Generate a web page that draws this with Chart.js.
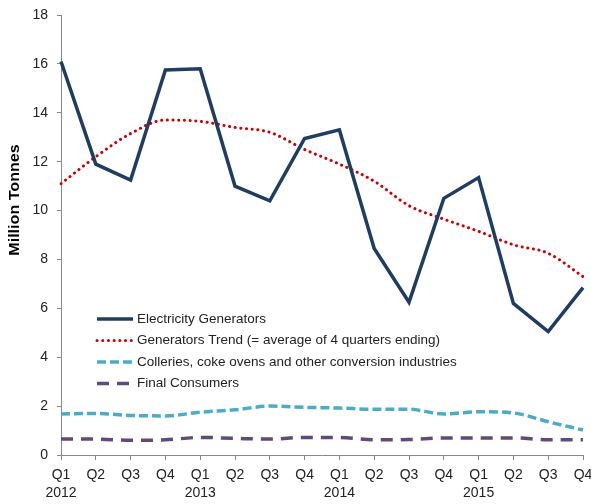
<!DOCTYPE html>
<html>
<head>
<meta charset="utf-8">
<script src="https://cdn.jsdelivr.net/npm/chart.js@4"></script>
<style>
  html, body { margin: 0; padding: 0; background: #fff; }
  #wrap { width: 591px; height: 504px; }
</style>
</head>
<body>
<div id="wrap"><canvas id="chart" width="591" height="504"></canvas></div>
<script>
// quarters, Q1 2012 .. Q4 2015
var quarters = ["Q1","Q2","Q3","Q4","Q1","Q2","Q3","Q4","Q1","Q2","Q3","Q4","Q1","Q2","Q3","Q4"];
var years = ["2012","","","","2013","","","","2014","","","","2015","","",""];

var generators = [16.1, 11.9, 11.25, 15.75, 15.8, 11.0, 10.4, 12.95, 13.3, 8.45, 6.25, 10.5, 11.35, 6.2, 5.05, 6.85];
var generatorsTrend = [11.1, 12.2, 13.15, 13.7, 13.65, 13.4, 13.2, 12.5, 11.9, 11.2, 10.2, 9.65, 9.15, 8.6, 8.25, 7.3];
var collieries = [1.68, 1.7, 1.62, 1.6, 1.75, 1.85, 2.0, 1.95, 1.92, 1.87, 1.87, 1.68, 1.77, 1.72, 1.36, 1.02];
var finalConsumers = [0.65, 0.65, 0.6, 0.62, 0.72, 0.68, 0.65, 0.72, 0.72, 0.62, 0.63, 0.7, 0.7, 0.7, 0.62, 0.62];

var yTitle = "Million Tonnes";

var labels = quarters.map(function(q, i){ return years[i] ? [q, years[i]] : q; });

var fontFam = "'Liberation Sans', Arial, sans-serif";

// legend drawn inside the plot + the y title (a bit stretched, like excel does)
var extras = {
  id: 'extras',
  afterDraw: function(chart) {
    var ctx = chart.ctx;
    var x0 = 97, x1 = 133, y = 319, step = 21.5;
    ctx.save();
    chart.data.datasets.forEach(function(ds, i) {
      var yy = y + i * step;
      ctx.beginPath();
      ctx.strokeStyle = ds.borderColor;
      ctx.lineWidth = ds.borderWidth;
      ctx.lineCap = ds.borderCapStyle || 'butt';
      ctx.setLineDash(ds.borderDash || []);
      ctx.moveTo(x0, yy);
      ctx.lineTo(x1, yy);
      ctx.stroke();
      ctx.setLineDash([]);
      ctx.fillStyle = '#222';
      ctx.font = '13.5px ' + fontFam;
      ctx.textBaseline = 'middle';
      ctx.fillText(ds.label, x1 + 4, yy);
    });
    ctx.restore();

    ctx.save();
    ctx.translate(15, 200);
    ctx.rotate(-Math.PI / 2);
    ctx.scale(1.15, 1);
    ctx.font = 'bold 14px ' + fontFam;
    ctx.fillStyle = '#000';
    ctx.textAlign = 'center';
    ctx.textBaseline = 'middle';
    ctx.fillText(yTitle, 0, 0);
    ctx.restore();
  }
};

new Chart(document.getElementById('chart').getContext('2d'), {
  type: 'line',
  data: {
    labels: labels,
    datasets: [{
      label: 'Electricity Generators',
      data: generators,
      borderColor: '#1f3d63',
      borderWidth: 3.5,
      tension: 0,
      pointRadius: 0
    }, {
      label: 'Generators Trend (= average of 4 quarters ending)',
      data: generatorsTrend,
      borderColor: '#cc0000',
      borderWidth: 3,
      borderDash: [0.1, 5.6],
      borderCapStyle: 'round',
      cubicInterpolationMode: 'monotone',
      pointRadius: 0
    }, {
      label: 'Colleries, coke ovens and other conversion industries',
      data: collieries,
      borderColor: '#4bacc6',
      borderWidth: 3.5,
      borderDash: [9, 4],
      cubicInterpolationMode: 'monotone',
      pointRadius: 0
    }, {
      label: 'Final Consumers',
      data: finalConsumers,
      borderColor: '#604a7b',
      borderWidth: 3.5,
      borderDash: [12, 8],
      cubicInterpolationMode: 'monotone',
      pointRadius: 0
    }]
  },
  options: {
    responsive: false,
    animation: false,
    layout: { padding: { left: 0, right: 8, top: 15, bottom: 0 } },
    plugins: { legend: { display: false }, tooltip: { enabled: false } },
    scales: {
      x: {
        offset: false,
        grid: { display: true, drawOnChartArea: false, drawTicks: true, tickLength: 5, color: '#888' },
        border: { color: '#888', width: 1 },
        ticks: { color: '#222', font: { family: fontFam, size: 14, lineHeight: 1.3 }, maxRotation: 0, autoSkip: false, padding: 6 },
        afterFit: function(s) { s.height = 49; s.paddingLeft = 0; s.paddingRight = 0; }
      },
      y: {
        min: 0, max: 18,
        grid: { display: true, drawOnChartArea: false, drawTicks: true, tickLength: 4, color: '#888' },
        border: { color: '#888', width: 1 },
        ticks: { stepSize: 2, color: '#222', font: { family: fontFam, size: 14 }, padding: 9 },
        afterFit: function(s) { s.width = 61; s.paddingTop = 0; s.paddingBottom = 0; }
      }
    }
  },
  plugins: [extras]
});
</script>
</body>
</html>
